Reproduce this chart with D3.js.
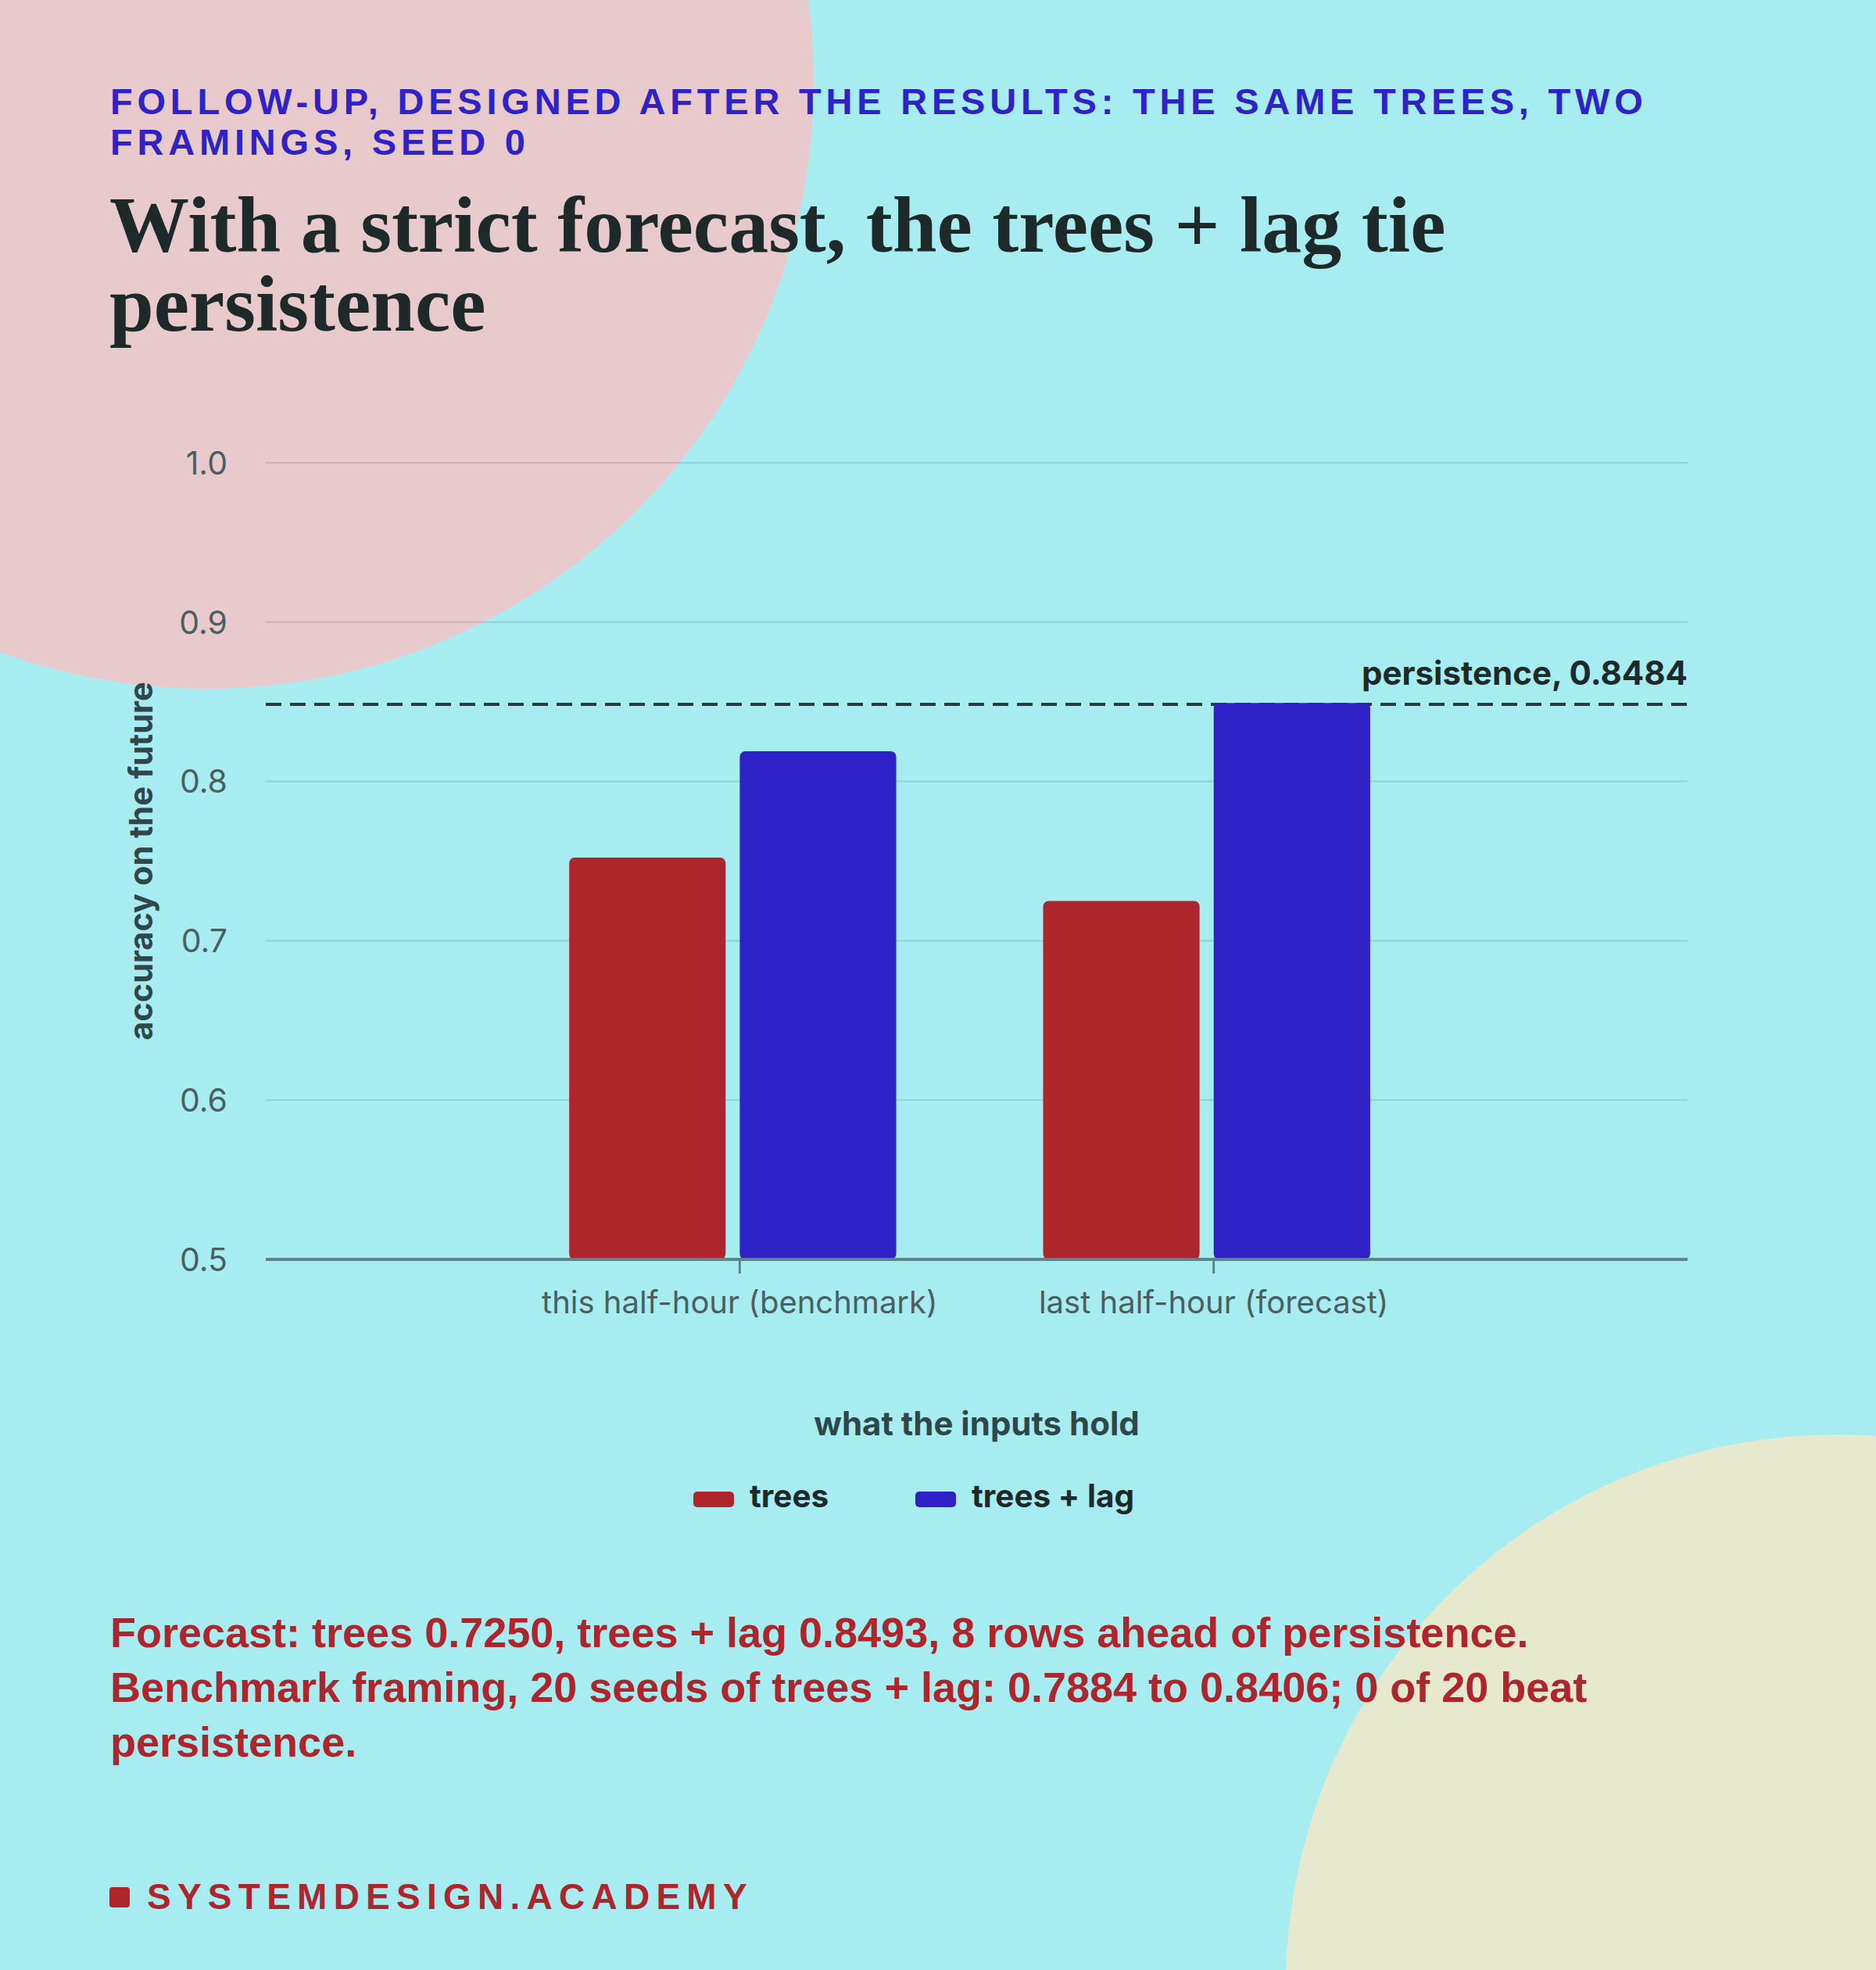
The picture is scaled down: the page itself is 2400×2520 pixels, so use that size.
<!DOCTYPE html>
<html>
<head>
<meta charset="utf-8">
<script src="https://cdn.jsdelivr.net/npm/d3@7"></script>
<style>
  html, body { margin: 0; padding: 0; background: #a7ecf1; }
  svg { display: block; }
</style>
</head>
<body>
<script>
// Chart data
const categories = ['this half-hour (benchmark)', 'last half-hour (forecast)']
const seriesNames = ['trees', 'trees + lag']
const treesValues = [0.7522, 0.7250]
const lagValues = [0.8190, 0.8493]
const persistence = 0.8484
const yTicks = [0.5, 0.6, 0.7, 0.8, 0.9, 1.0]

const kickerLines = ['FOLLOW-UP, DESIGNED AFTER THE RESULTS: THE SAME TREES, TWO', 'FRAMINGS, SEED 0']
const titleLines = ['With a strict forecast, the trees + lag tie', 'persistence']
const noteLines = [
  'Forecast: trees 0.7250, trees + lag 0.8493, 8 rows ahead of persistence.',
  'Benchmark framing, 20 seeds of trees + lag: 0.7884 to 0.8406; 0 of 20 beat',
  'persistence.',
]

const seriesColors = ['#ae262b', '#2e22c6']
const sans = 'Inter, "Noto Sans", sans-serif'
const helv = '"Liberation Sans", Arial, sans-serif'

const W = 2400
const H = 2520
const plot = { left: 340, right: 2159, top: 592, bottom: 1611 }

const svg = d3
  .select('body')
  .append('svg')
  .attr('width', W)
  .attr('height', H)

// Background and decorative circles
svg.append('rect').attr('width', W).attr('height', H).attr('fill', '#a7ecf1')
svg.append('circle').attr('cx', 265).attr('cy', 105).attr('r', 776).attr('fill', '#e9cacc')
svg.append('circle').attr('cx', 2350).attr('cy', 2540).attr('r', 705).attr('fill', '#e7e9cf')

// Kicker
svg.append('g')
  .selectAll('text')
  .data(kickerLines)
  .enter()
  .append('text')
  .attr('x', 141)
  .attr('y', (d, i) => 146 + i * 52)
  .attr('font-family', helv)
  .attr('font-weight', 700)
  .attr('font-size', 47)
  .attr('letter-spacing', 5.8)
  .attr('fill', '#2e22c8')
  .text((d) => d)

// Title
svg.append('g')
  .selectAll('text')
  .data(titleLines)
  .enter()
  .append('text')
  .attr('x', 140)
  .attr('y', (d, i) => 322 + i * 101)
  .attr('font-family', '"Liberation Serif", "DejaVu Serif", serif')
  .attr('font-weight', 700)
  .attr('font-size', 102)
  .attr('fill', '#1e2a2a')
  .text((d) => d)

// Scales
const y = d3.scaleLinear().domain([0.5, 1.0]).range([plot.bottom, plot.top])
const x = d3.scaleBand()
  .domain(categories)
  .range([plot.left, plot.right])
  .paddingInner(0.31)
  .paddingOuter(0.655)
const xSub = d3.scaleBand()
  .domain(seriesNames)
  .range([0, x.bandwidth()])
  .paddingInner(0.083)

// bar groups sit a little left of the category tick in the original
const barShift = -9

const chart = svg.append('g')

// Gridlines
chart.append('g')
  .selectAll('line')
  .data(yTicks.filter((t) => t > 0.5))
  .enter()
  .append('line')
  .attr('x1', plot.left)
  .attr('x2', plot.right)
  .attr('y1', (d) => y(d))
  .attr('y2', (d) => y(d))
  .attr('stroke', 'rgba(20,60,70,0.14)')
  .attr('stroke-width', 2)

// Y tick labels
chart.append('g')
  .selectAll('text')
  .data(yTicks)
  .enter()
  .append('text')
  .attr('x', 291)
  .attr('y', (d) => y(d))
  .attr('dy', '0.36em')
  .attr('text-anchor', 'end')
  .attr('font-family', sans)
  .attr('font-size', 41)
  .attr('fill', '#4b5f60')
  .text((d) => d3.format('.1f')(d))

// Persistence reference line (under the bars)
chart.append('line')
  .attr('x1', plot.left)
  .attr('x2', plot.right)
  .attr('y1', y(persistence))
  .attr('y2', y(persistence))
  .attr('stroke', '#263a3c')
  .attr('stroke-width', 4)
  .attr('stroke-dasharray', '20 11')

chart.append('text')
  .attr('x', plot.right)
  .attr('y', y(persistence) - 25)
  .attr('text-anchor', 'end')
  .attr('font-family', sans)
  .attr('font-weight', 700)
  .attr('font-size', 42)
  .attr('fill', '#1e2a2a')
  .text('persistence, ' + d3.format('.4f')(persistence))

// Bars
const barData = categories.flatMap((c, i) => [
  { category: c, series: seriesNames[0], value: treesValues[i] },
  { category: c, series: seriesNames[1], value: lagValues[i] },
])

chart.append('g')
  .attr('transform', `translate(${barShift}, 0)`)
  .selectAll('rect')
  .data(barData)
  .enter()
  .append('rect')
  .attr('x', (d) => x(d.category) + xSub(d.series))
  .attr('y', (d) => y(d.value))
  .attr('width', xSub.bandwidth())
  .attr('height', (d) => y(0.5) - y(d.value))
  .attr('rx', 7)
  .attr('fill', (d) => seriesColors[seriesNames.indexOf(d.series)])

// X axis baseline and ticks
chart.append('line')
  .attr('x1', plot.left)
  .attr('x2', plot.right)
  .attr('y1', plot.bottom)
  .attr('y2', plot.bottom)
  .attr('stroke', '#5b8689')
  .attr('stroke-width', 4)

const xTicks = chart.append('g')
  .selectAll('g')
  .data(categories)
  .enter()
  .append('g')
  .attr('transform', (d) => `translate(${x(d) + x.bandwidth() / 2}, 0)`)

xTicks.append('line')
  .attr('y1', plot.bottom)
  .attr('y2', plot.bottom + 18)
  .attr('stroke', '#5b8689')
  .attr('stroke-width', 3)

xTicks.append('text')
  .attr('y', 1680)
  .attr('text-anchor', 'middle')
  .attr('font-family', sans)
  .attr('font-size', 40)
  .attr('fill', '#4b5f60')
  .text((d) => d)

// Axis titles
chart.append('text')
  .attr('x', (plot.left + plot.right) / 2)
  .attr('y', 1836)
  .attr('text-anchor', 'middle')
  .attr('font-family', sans)
  .attr('font-weight', 700)
  .attr('font-size', 42)
  .attr('fill', '#2f4748')
  .text('what the inputs hold')

chart.append('text')
  .attr('transform', `translate(195, ${(plot.top + plot.bottom) / 2}) rotate(-90)`)
  .attr('text-anchor', 'middle')
  .attr('font-family', sans)
  .attr('font-weight', 700)
  .attr('font-size', 41.5)
  .attr('fill', '#2f4748')
  .text('accuracy on the future')

// Legend
const legendX = [887, 1171]
const legend = svg.append('g')
  .selectAll('g')
  .data(seriesNames)
  .enter()
  .append('g')
  .attr('transform', (d, i) => `translate(${legendX[i]}, 1908)`)

legend.append('rect')
  .attr('width', 52)
  .attr('height', 20)
  .attr('rx', 5)
  .attr('fill', (d, i) => seriesColors[i])

legend.append('text')
  .attr('x', 72)
  .attr('y', 20)
  .attr('font-family', sans)
  .attr('font-weight', 700)
  .attr('font-size', 40.5)
  .attr('fill', '#1e2a2a')
  .text((d) => d)

// Footnote
svg.append('g')
  .selectAll('text')
  .data(noteLines)
  .enter()
  .append('text')
  .attr('x', 141)
  .attr('y', (d, i) => 2107 + i * 70)
  .attr('font-family', helv)
  .attr('font-weight', 700)
  .attr('font-size', 54)
  .attr('fill', '#ae262b')
  .text((d) => d)

// Footer brand
svg.append('rect')
  .attr('x', 140)
  .attr('y', 2414)
  .attr('width', 26)
  .attr('height', 26)
  .attr('rx', 4)
  .attr('fill', '#ae262b')

svg.append('text')
  .attr('x', 188)
  .attr('y', 2442)
  .attr('font-family', helv)
  .attr('font-weight', 700)
  .attr('font-size', 46)
  .attr('letter-spacing', 8.25)
  .attr('fill', '#ae262b')
  .text('SYSTEMDESIGN.ACADEMY')
</script>
</body>
</html>
